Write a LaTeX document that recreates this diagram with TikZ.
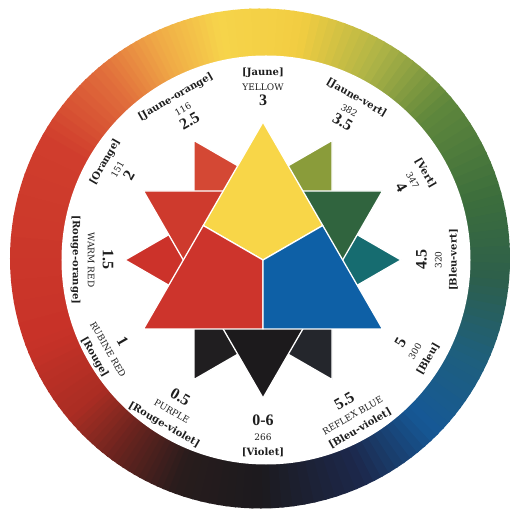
\documentclass[tikz,border=0pt]{standalone}
\usepackage{fontspec}
\setmainfont{Liberation Serif}
\newfontfamily\wideserif{DejaVu Serif}

\definecolor{rk}{RGB}{28,26,30}
\definecolor{rn}{RGB}{28,40,75}
\definecolor{rb}{RGB}{22,88,150}
\definecolor{rt}{RGB}{30,95,125}
\definecolor{rdg}{RGB}{45,95,75}
\definecolor{rg}{RGB}{60,110,60}
\definecolor{rlg}{RGB}{95,135,60}
\definecolor{ryg}{RGB}{175,180,70}
\definecolor{ry}{RGB}{242,205,65}
\definecolor{ryy}{RGB}{246,212,75}
\definecolor{ryo}{RGB}{240,170,70}
\definecolor{ro}{RGB}{225,110,60}
\definecolor{rr}{RGB}{208,62,45}
\definecolor{rrr}{RGB}{200,50,40}
\definecolor{rdr}{RGB}{170,45,35}
\definecolor{rdrr}{RGB}{100,35,30}
\definecolor{rkk}{RGB}{40,28,28}

\definecolor{sY}{RGB}{248,214,72}
\definecolor{sR}{RGB}{205,52,44}
\definecolor{sB}{RGB}{14,96,166}
\definecolor{sG}{RGB}{48,100,62}
\definecolor{sO}{RGB}{206,58,45}
\definecolor{sV}{RGB}{28,26,28}
\definecolor{sBG}{RGB}{22,108,112}
\definecolor{sYO}{RGB}{212,72,52}
\definecolor{sRV}{RGB}{32,30,32}
\definecolor{sYG}{RGB}{138,156,58}
\definecolor{sRO}{RGB}{204,50,42}
\definecolor{sBV}{RGB}{36,38,44}
\definecolor{labtext}{RGB}{30,30,30}

\newcommand\frlab{\wideserif\bfseries\fontsize{10}{15}\selectfont}
\newcommand\enlab{\wideserif\fontsize{9}{15}\selectfont}
\newcommand\numlab{\bfseries\fontsize{16}{15}\selectfont}

\begin{document}
\begin{tikzpicture}[x=1pt,y=1pt,
  kite/.style={draw=white,line width=1.3pt,line join=round},
  lab/.style={align=center,inner sep=0pt,text=labtext,font=\fontsize{10}{15}\selectfont}]
\useasboundingbox[fill=white] (-263,-258) rectangle (258,260);
\coordinate (ringc) at (-3,1.5);
\coordinate (innc) at (3,0);
\coordinate (o) at (0,0);
\foreach \sa/\sb/\ca/\cb in {-90/-65/rk/rn,-65/-45/rn/rb,-45/-25/rb/rt,-25/-5/rt/rdg,-5/15/rdg/rg,15/40/rg/rlg,40/60/rlg/ryg,60/80/ryg/ry,80/100/ry/ryy,100/115/ryy/ryo,115/130/ryo/ro,130/150/ro/rr,150/200/rr/rrr,200/220/rrr/rdr,220/235/rdr/rdrr,235/250/rdrr/rkk,250/270/rkk/rk}{
  \foreach \i in {0,...,9}{
    \pgfmathsetmacro\ta{\sa+(\sb-\sa)*\i/10}
    \pgfmathsetmacro\tb{\sa+(\sb-\sa)*(\i+1)/10+0.5}
    \pgfmathtruncatemacro\pc{95-10*\i}
    \colorlet{ringseg}{\ca!\pc!\cb}
    \fill[ringseg] (ringc) -- ++(\ta:250pt) arc[start angle=\ta,end angle=\tb,radius=250pt] -- cycle;
  }
}
\fill[white] (innc) circle[radius=204.5pt];
\foreach \a/\c in {0/sBG,120/sYO,240/sRV,60/sYG,180/sRO,300/sBV,30/sG,150/sO,270/sV,90/sY,210/sR,330/sB}
  \filldraw[kite,fill=\c] (\a:138pt) -- ({\a+60}:69pt) -- (o) -- ({\a-60}:69pt) -- cycle;
\node[lab,rotate=0] (lJaune) at (90:173pt) {{\frlab [Jaune]}\\{\enlab YELLOW}\\{\numlab 3}};
\node[lab,rotate=30] (lJauneOr) at (118:171pt) {{\frlab [Jaune-orange]}\\{\enlab 116}\\{\numlab 2.5}};
\node[lab,rotate=60] (lOrange) at (148:172pt) {{\frlab [Orange]}\\{\enlab 151}\\{\numlab 2}};
\node[lab,rotate=-30] (lJauneVe) at (60:173pt) {{\frlab [Jaune-vert]}\\{\enlab 382}\\{\numlab 3.5}};
\node[lab,rotate=-60] (lVert) at (28:170pt) {{\frlab [Vert]}\\{\enlab 347}\\{\numlab 4}};
\node[lab,rotate=-90] (lRougeOr) at (180:171pt) {{\numlab 1.5}\\{\enlab WARM RED}\\{\frlab [Rouge-orange]}};
\node[lab,rotate=-60] (lRouge) at (210:178pt) {{\numlab 1}\\{\enlab RUBINE RED}\\{\frlab [Rouge]}};
\node[lab,rotate=-30] (lRougeVi) at (239:176pt) {{\numlab 0.5}\\{\enlab PURPLE}\\{\frlab [Rouge-violet]}};
\node[lab,rotate=0] (lViolet) at (270:176pt) {{\numlab 0-6}\\{\enlab 266}\\{\frlab [Violet]}};
\node[lab,rotate=30] (lBleuVi) at (300:178pt) {{\numlab 5.5}\\{\enlab REFLEX BLUE}\\{\frlab [Bleu-violet]}};
\node[lab,rotate=60] (lBleu) at (329:176pt) {{\numlab 5}\\{\enlab 300}\\{\frlab [Bleu]}};
\node[lab,rotate=90] (lBleuVe) at (0:174pt) {{\numlab 4.5}\\{\enlab 320}\\{\frlab [Bleu-vert]}};
\end{tikzpicture}
\end{document}
